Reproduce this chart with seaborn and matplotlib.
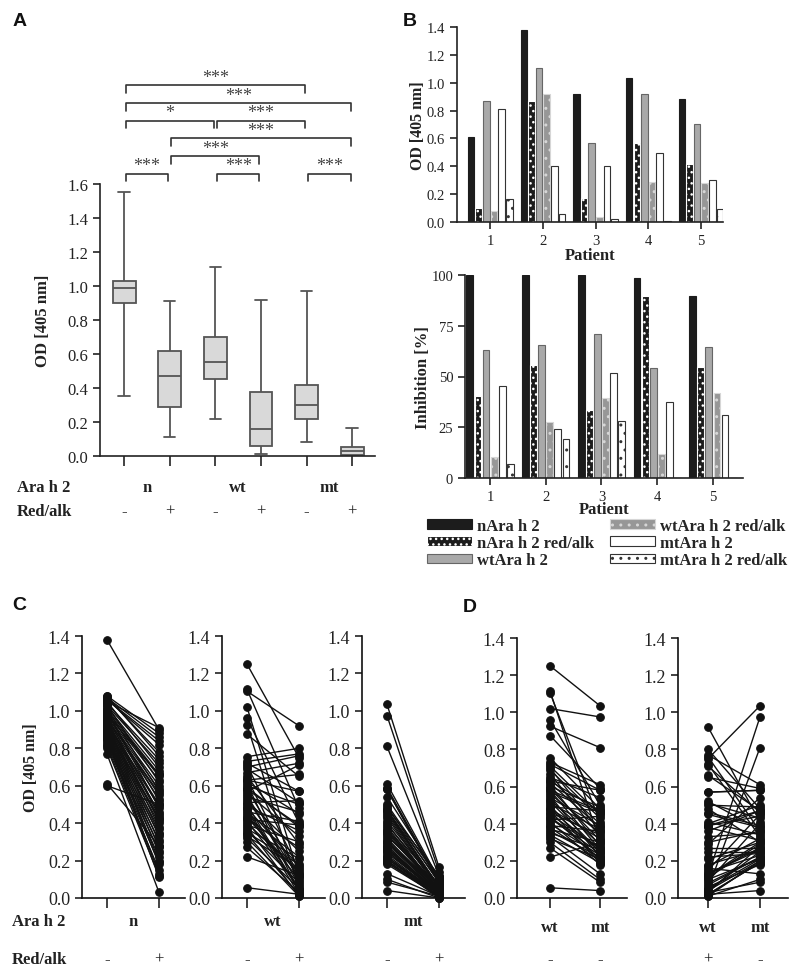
import matplotlib
matplotlib.use("Agg")

import matplotlib.patches as mpatches
import matplotlib.pyplot as plt
import numpy as np
import pandas as pd
import seaborn as sns

W, H = 800, 978

# Panel A: five-number summary (min, Q1, median, Q3, max) per group
box_groups = ["n -", "n +", "wt -", "wt +", "mt -", "mt +"]
box_min = [0.355, 0.11, 0.215, 0.01, 0.08, 0.0]
box_q1 = [0.90, 0.29, 0.45, 0.06, 0.215, 0.005]
box_median = [0.99, 0.47, 0.555, 0.16, 0.30, 0.03]
box_q3 = [1.03, 0.62, 0.70, 0.375, 0.42, 0.055]
box_max = [1.55, 0.91, 1.11, 0.92, 0.97, 0.165]

# significance brackets: group indices, stacking level, label
sig_left = [0, 2, 4, 1, 1, 0, 2, 0, 0]
sig_right = [1, 3, 5, 3, 5, 2, 4, 5, 4]
sig_rank = [0, 0, 0, 1, 2, 3, 3, 4, 5]
sig_label = ["***", "***", "***", "***", "***", "*", "***", "***", "***"]

# Panel B: single patients
patients = ["1", "2", "3", "4", "5"]
antigens = ["nAra h 2", "nAra h 2 red/alk", "wtAra h 2",
            "wtAra h 2 red/alk", "mtAra h 2", "mtAra h 2 red/alk"]
od_values = [
    [0.61, 1.38, 0.92, 1.035, 0.88],
    [0.10, 0.87, 0.175, 0.57, 0.415],
    [0.87, 1.105, 0.565, 0.92, 0.705],
    [0.08, 0.92, 0.035, 0.29, 0.28],
    [0.81, 0.40, 0.40, 0.495, 0.305],
    [0.165, 0.06, 0.025, 0.01, 0.095],
]
inhibition_values = [
    [100, 100, 100, 98.5, 89.5],
    [40.5, 55.5, 33.5, 89.5, 54.5],
    [63, 65.5, 71, 54, 64.5],
    [10.5, 27.5, 39.5, 12, 42],
    [45.5, 24, 51.5, 37.5, 31],
    [7, 19, 28, 0, 0],
]

# Panels C/D: paired OD values per patient
n_minus = [1.38, 1.08, 1.07, 1.06, 1.07, 1.05, 1.08, 1.04,
           1.03, 1.05, 1.02, 1.01, 1.00, 0.99, 1.03, 0.98,
           0.97, 1.01, 0.96, 0.95, 0.99, 0.94, 0.93, 1.00,
           0.92, 0.97, 0.91, 0.90, 0.95, 0.89, 0.94, 0.88,
           0.93, 0.87, 0.92, 0.86, 0.91, 0.85, 0.90, 0.84,
           0.89, 0.83, 0.88, 0.82, 0.87, 0.81, 0.86, 0.80,
           0.85, 0.77, 0.61, 0.60, 1.06, 0.98, 0.96, 0.95]
n_plus = [0.90, 0.88, 0.86, 0.84, 0.78, 0.91, 0.76, 0.74,
          0.72, 0.70, 0.68, 0.66, 0.65, 0.63, 0.62, 0.60,
          0.58, 0.57, 0.55, 0.53, 0.52, 0.50, 0.49, 0.48,
          0.46, 0.45, 0.43, 0.42, 0.41, 0.40, 0.38, 0.37,
          0.35, 0.34, 0.33, 0.31, 0.30, 0.28, 0.27, 0.25,
          0.24, 0.22, 0.20, 0.19, 0.18, 0.15, 0.13, 0.12,
          0.11, 0.03, 0.28, 0.50, 0.82, 0.66, 0.56, 0.44]
wt_minus = [1.25, 1.115, 1.105, 1.02, 0.96, 0.925, 0.875, 0.755,
            0.73, 0.72, 0.71, 0.70, 0.69, 0.67, 0.65, 0.64,
            0.63, 0.62, 0.61, 0.60, 0.59, 0.58, 0.57, 0.56,
            0.55, 0.54, 0.53, 0.52, 0.51, 0.50, 0.49, 0.48,
            0.47, 0.46, 0.45, 0.44, 0.43, 0.42, 0.41, 0.40,
            0.39, 0.38, 0.37, 0.36, 0.35, 0.34, 0.33, 0.32,
            0.30, 0.27, 0.22, 0.055, 0.63, 0.48, 0.58, 0.43]
wt_plus = [0.75, 0.48, 0.92, 0.12, 0.40, 0.05, 0.65, 0.80,
           0.77, 0.57, 0.15, 0.76, 0.51, 0.72, 0.29, 0.09,
           0.66, 0.45, 0.03, 0.50, 0.38, 0.13, 0.71, 0.33,
           0.07, 0.46, 0.11, 0.25, 0.52, 0.04, 0.36, 0.17,
           0.02, 0.41, 0.27, 0.10, 0.22, 0.39, 0.06, 0.14,
           0.30, 0.01, 0.21, 0.08, 0.18, 0.02, 0.16, 0.05,
           0.01, 0.03, 0.12, 0.02, 0.57, 0.04, 0.39, 0.13]
mt_minus = [1.035, 0.30, 0.41, 0.975, 0.50, 0.81, 0.59, 0.48,
            0.61, 0.58, 0.45, 0.36, 0.43, 0.33, 0.54, 0.40,
            0.47, 0.38, 0.28, 0.49, 0.31, 0.26, 0.46, 0.35,
            0.22, 0.39, 0.29, 0.25, 0.37, 0.20, 0.47, 0.32,
            0.19, 0.34, 0.27, 0.21, 0.24, 0.44, 0.18, 0.23,
            0.36, 0.20, 0.30, 0.22, 0.26, 0.19, 0.13, 0.21,
            0.10, 0.085, 0.30, 0.04, 0.58, 0.25, 0.47, 0.27]
mt_plus = [0.165, 0.05, 0.07, 0.14, 0.10, 0.12, 0.09, 0.12,
           0.10, 0.08, 0.06, 0.05, 0.04, 0.07, 0.11, 0.03,
           0.09, 0.04, 0.02, 0.08, 0.05, 0.03, 0.06, 0.04,
           0.02, 0.07, 0.03, 0.02, 0.05, 0.01, 0.06, 0.03,
           0.01, 0.04, 0.02, 0.01, 0.03, 0.05, 0.01, 0.02,
           0.04, 0.00, 0.03, 0.01, 0.02, 0.01, 0.01, 0.02,
           0.00, 0.01, 0.04, 0.00, 0.08, 0.02, 0.06, 0.03]

# bar styles per antigen
bar_face = ["#1c1c1c", "#1c1c1c", "#a9a9a9", "#979797", "white", "white"]
bar_edge = ["#1c1c1c", "white", "#666666", "#d6d6d6", "#333333", "#333333"]
bar_hatch = [None, "...", None, "..", None, ".."]

sns.set_theme(style="ticks")
plt.rcParams["font.family"] = ["Liberation Serif", "DejaVu Serif"]
plt.rcParams["axes.linewidth"] = 1.2
plt.rcParams["hatch.linewidth"] = 1.0

SERIF = "Liberation Serif"
SANS = "Liberation Sans"

fig = plt.figure(figsize=(W / 100, H / 100), dpi=100)


def add_axes(left, top, right, bottom):
    """Axes from pixel box"""
    return fig.add_axes([left / W, 1 - bottom / H, (right - left) / W, (bottom - top) / H])


def fig_text(x, y, s, **kw):
    fig.text(x / W, 1 - y / H, s, **kw)


def below(ax, x, dy, s, **kw):
    ax.annotate(s, xy=(x, 0), xycoords=("data", "axes fraction"),
                xytext=(0, -dy), textcoords="offset pixels",
                ha="center", va="center", **kw)


def style_axes(ax, labelsize):
    sns.despine(ax=ax)
    ax.tick_params(axis="both", direction="out", length=5, width=1.2,
                   color="#222222", labelsize=labelsize, labelcolor="#222222")
    for side in ("left", "bottom"):
        ax.spines[side].set_color("#222222")


bold = dict(fontfamily=SERIF, fontweight="bold", color="#222222")
plain = dict(fontfamily=SERIF, color="#222222")

# ---------------- Panel A ----------------
axA = add_axes(100, 60, 375, 457)
box_df = pd.DataFrame({
    "group": np.repeat(box_groups, 5),
    "od": np.ravel(np.column_stack([box_min, box_q1, box_median, box_q3, box_max])),
})
sns.boxplot(data=box_df, x="group", y="od", order=box_groups, whis=(0, 100),
            width=0.5, color="#d9d9d9", linecolor="#555555", linewidth=1.3,
            saturation=1, ax=axA)
axA.set_xlim(-0.53, 5.5)
axA.set_ylim(0, 2.335)
axA.set_yticks(np.arange(0, 1.61, 0.2))
axA.set_yticklabels([f"{v:.1f}" for v in np.arange(0, 1.61, 0.2)])
axA.spines["left"].set_bounds(0, 1.6)
style_axes(axA, 12)
axA.tick_params(axis="x", length=7, labelbottom=False)
axA.set_xlabel("")
axA.set_ylabel("OD [405 nm]", fontsize=12, **bold)
axA.yaxis.set_label_coords(-0.178, 0.342)

base, step, leg, inset = 1.66, 0.104, 0.045, 0.035
for left, right, rank, lab in zip(sig_left, sig_right, sig_rank, sig_label):
    y = base + step * rank
    axA.plot([left + inset, left + inset, right - inset, right - inset],
             [y - leg, y, y, y - leg], color="#333333", lw=1.2, clip_on=False)
    axA.text((left + right) / 2, y - 0.004, lab, ha="center", va="bottom",
             fontsize=13, color="#444444", fontfamily=SERIF)

for i, sign in enumerate(["-", "+", "-", "+", "-", "+"]):
    below(axA, i, 55, sign, fontsize=12, **plain)
for i, name in zip([0.5, 2.5, 4.5], ["n", "wt", "mt"]):
    below(axA, i, 31, name, fontsize=12, **bold)
fig_text(17, 488, "Ara h 2", fontsize=12, va="center", **bold)
fig_text(17, 512, "Red/alk", fontsize=12, va="center", **bold)

# ---------------- Panel B ----------------
def bar_panel(ax, values):
    rows = []
    for antigen, vals in zip(antigens, values):
        for patient, v in zip(patients, vals):
            rows.append({"patient": patient, "antigen": antigen, "value": v})
    df = pd.DataFrame(rows)
    sns.barplot(data=df, x="patient", y="value", hue="antigen",
                hue_order=antigens, order=patients, palette=bar_face,
                width=0.87, gap=0.15, saturation=1, errorbar=None,
                legend=False, ax=ax)
    for container, face, edge, hatch in zip(ax.containers, bar_face, bar_edge, bar_hatch):
        for patch in container:
            patch.set_facecolor(face)
            patch.set_edgecolor(edge)
            patch.set_linewidth(0.8)
            if hatch:
                patch.set_hatch(hatch)
    style_axes(ax, 10.5)
    ax.set_xlabel("Patient", fontsize=12, **bold)


axB1 = add_axes(457, 28, 723, 223)
bar_panel(axB1, od_values)
axB1.set_xlim(-0.63, 4.42)
axB1.set_ylim(0, 1.4)
axB1.set_yticks(np.arange(0, 1.41, 0.2))
axB1.set_yticklabels([f"{v:.1f}" for v in np.arange(0, 1.41, 0.2)])
axB1.set_ylabel("OD [405 nm]", fontsize=11.5, **bold)
axB1.xaxis.labelpad = 0
axB1.yaxis.set_label_coords(-0.118, 0.5)

axB2 = add_axes(465, 276, 743, 479)
bar_panel(axB2, inhibition_values)
axB2.set_xlim(-0.45, 4.54)
axB2.set_ylim(0, 100)
axB2.set_yticks([0, 25, 50, 75, 100])
axB2.set_ylabel("Inhibition [%]", fontsize=12, **bold)
axB2.xaxis.labelpad = -1
axB2.yaxis.set_label_coords(-0.122, 0.5)

handles = []
for face, edge, hatch, name in zip(bar_face, bar_edge, bar_hatch, antigens):
    handles.append(mpatches.Patch(facecolor=face, edgecolor=edge, hatch=hatch,
                                  linewidth=0.8, label=name))
fig.legend(handles=handles, ncol=2, loc="upper left",
           bbox_to_anchor=(420 / W, 1 - 512 / H), frameon=False,
           handlelength=2.7, handleheight=0.5, handletextpad=0.3,
           columnspacing=1.0, labelspacing=0.08, borderaxespad=0,
           prop=dict(family=SERIF, weight="bold", size=12))

# ---------------- Panels C / D ----------------
def paired_panel(ax, before, after, xlim):
    n = len(before)
    df = pd.DataFrame({
        "patient": np.tile(np.arange(n), 2),
        "pos": np.repeat([0, 1], n),
        "od": np.concatenate([before, after]),
    })
    sns.lineplot(data=df, x="pos", y="od", units="patient", estimator=None,
                 color="#111111", marker="o", markersize=5.5,
                 markeredgecolor="#111111", linewidth=1.0, legend=False, ax=ax)
    for line in ax.lines:
        line.set_clip_on(False)
    ax.set_xlim(*xlim)
    ax.set_ylim(0, 1.4)
    ax.set_yticks(np.arange(0, 1.41, 0.2))
    ax.set_yticklabels([f"{v:.1f}" for v in np.arange(0, 1.41, 0.2)])
    ax.set_xticks([0, 1])
    ax.set_xticklabels([])
    ax.set_xlabel("")
    ax.set_ylabel("")
    style_axes(ax, 13)
    ax.spines["left"].set_color("#111111")
    ax.spines["bottom"].set_color("#111111")
    ax.tick_params(axis="x", length=7)


axC1 = add_axes(82, 637, 185, 899)
paired_panel(axC1, n_minus, n_plus, (-0.48, 1.5))
axC1.set_ylabel("OD [405 nm]", fontsize=11.5, **bold)
axC1.yaxis.set_label_coords(-0.42, 0.5)
axC2 = add_axes(222, 637, 325, 899)
paired_panel(axC2, wt_minus, wt_plus, (-0.48, 1.5))
axC3 = add_axes(362, 637, 465, 899)
paired_panel(axC3, mt_minus, mt_plus, (-0.48, 1.5))

for ax, name in zip([axC1, axC2, axC3], ["n", "wt", "mt"]):
    below(ax, 0.5, 23, name, fontsize=12, **bold)
    below(ax, 0, 61, "-", fontsize=12, **plain)
    below(ax, 1, 61, "+", fontsize=12, **plain)
fig_text(12, 922, "Ara h 2", fontsize=12, va="center", **bold)
fig_text(12, 960, "Red/alk", fontsize=12, va="center", **bold)

axD1 = add_axes(517, 639, 627, 899)
paired_panel(axD1, wt_minus, mt_minus, (-0.66, 1.54))
axD2 = add_axes(678, 639, 788, 899)
paired_panel(axD2, wt_plus, mt_minus, (-0.58, 1.54))
for ax, signs in zip([axD1, axD2], [("-", "-"), ("+", "-")]):
    below(ax, 0, 29, "wt", fontsize=12, **bold)
    below(ax, 1, 29, "mt", fontsize=12, **bold)
    below(ax, 0, 61, signs[0], fontsize=12, **plain)
    below(ax, 1, 61, signs[1], fontsize=12, **plain)

# panel letters
for x, y, letter in [(20, 21, "A"), (410, 21, "B"), (19, 606, "C"), (470, 607, "D")]:
    fig_text(x, y, letter, fontsize=14, fontweight="bold", fontfamily=SANS,
             ha="center", va="center", color="#111111")

fig.savefig("out.png", dpi=100)
